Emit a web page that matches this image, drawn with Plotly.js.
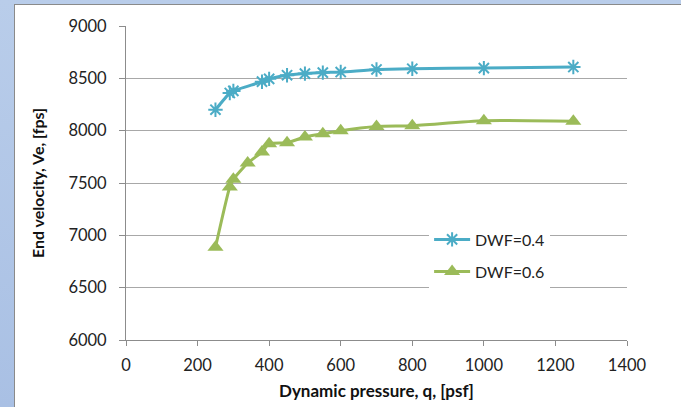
<!DOCTYPE html>
<html>
<head>
<meta charset="utf-8">
<script src="https://cdn.plot.ly/plotly-3.0.1.min.js"></script>
<style>
  html, body { margin: 0; padding: 0; }
  #bg { position: absolute; left: 0; top: 0; width: 681px; height: 407px;
        background: linear-gradient(to bottom, #b9cdea, #a9c0e4); }
  #card { position: absolute; left: 14px; top: 4px; width: 667px; height: 403px;
          background: #ffffff; border-left: 1px solid #8a8a8a; border-top: 1px solid #8a8a8a; box-sizing: border-box; }
  #chart { position: absolute; left: 0; top: 0; width: 681px; height: 407px; }
</style>
</head>
<body>
<div id="bg"></div>
<div id="card"></div>
<div id="chart"></div>
<script>
// Data
const qBlue = [250, 290, 300, 380, 400, 450, 500, 550, 600, 700, 800, 1000, 1250];
const veBlue = [8200, 8360, 8380, 8468, 8495, 8530, 8545, 8555, 8560, 8585, 8592, 8598, 8608];
const qGreen = [250, 290, 300, 340, 380, 400, 450, 500, 550, 600, 700, 800, 1000, 1250];
const veGreen = [6885, 7462, 7535, 7690, 7797, 7875, 7885, 7940, 7970, 8000, 8040, 8048, 8095, 8090];
const seriesNames = ["DWF=0.4", "DWF=0.6"];
const xTicks = [0, 200, 400, 600, 800, 1000, 1200, 1400];
const yTicks = [6000, 6500, 7000, 7500, 8000, 8500, 9000];

const fontFam = "Lato, 'Open Sans', sans-serif";

const traces = [
  {
    x: qBlue, y: veBlue, name: seriesNames[0], type: "scatter", mode: "lines+markers",
    line: { color: "#4BACC6", width: 3, shape: "spline", smoothing: 0.6 },
    marker: { symbol: "asterisk-open", size: 12, color: "#4BACC6", line: { color: "#4BACC6", width: 2 } },
    legend: "legend"
  },
  {
    x: qGreen, y: veGreen, name: seriesNames[1], type: "scatter", mode: "lines+markers",
    line: { color: "#9BBB59", width: 3, shape: "spline", smoothing: 0.6 },
    marker: { symbol: "triangle-up", size: 14, color: "#9BBB59" },
    legend: "legend2"
  }
];

const legendCommon = {
  bgcolor: "#ffffff", borderwidth: 0,
  font: { family: fontFam, size: 16, color: "#222222" },
  xanchor: "left", yanchor: "middle", itemwidth: 36
};

const layout = {
  width: 681, height: 407,
  margin: { l: 126, r: 54, t: 26, b: 67 },
  paper_bgcolor: "rgba(0,0,0,0)",
  plot_bgcolor: "rgba(0,0,0,0)",
  font: { family: fontFam, size: 16, color: "#222222" },
  xaxis: {
    range: [0, 1400], tickvals: xTicks, ticktext: xTicks.map(String),
    showgrid: false, zeroline: false,
    showline: true, linecolor: "#8c8c8c", linewidth: 1,
    ticks: "outside", ticklen: 5, tickcolor: "#8c8c8c",
    ticklabelstandoff: 5,
    tickfont: { family: fontFam, size: 16.5, color: "#222222" },
    title: { text: "Dynamic pressure, q, [psf]", font: { family: fontFam, size: 17, color: "#111111", weight: "bold" }, standoff: 11 }
  },
  yaxis: {
    range: [6000, 9000], tickvals: yTicks, ticktext: yTicks.map(String),
    showgrid: true, gridcolor: "#a8a8a8", gridwidth: 1, zeroline: false,
    showline: true, linecolor: "#8c8c8c", linewidth: 1,
    ticks: "outside", ticklen: 6, tickcolor: "#8c8c8c",
    ticklabelstandoff: 9,
    tickfont: { family: fontFam, size: 16.5, color: "#222222" },
    title: { text: "End velocity, Ve, [fps]", font: { family: fontFam, size: 16, color: "#111111", weight: "bold" }, standoff: 19 }
  },
  legend: Object.assign({}, legendCommon, { x: 0.605, y: 0.32 }),
  legend2: Object.assign({}, legendCommon, { x: 0.605, y: 0.218 }),
  showlegend: true
};

Plotly.newPlot("chart", traces, layout, { displayModeBar: false, staticPlot: true });
</script>
</body>
</html>
